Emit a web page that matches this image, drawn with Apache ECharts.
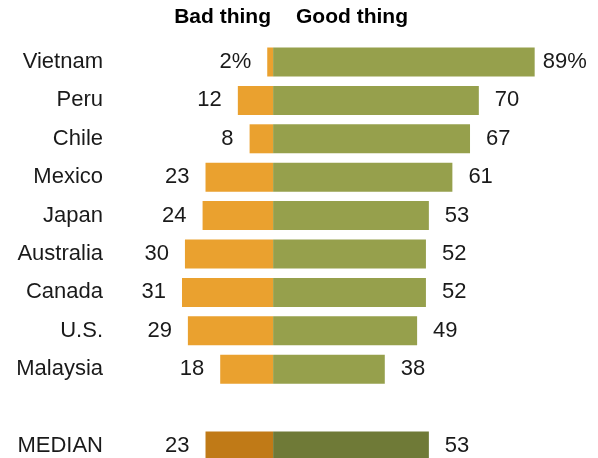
<!DOCTYPE html>
<html>
<head>
<meta charset="utf-8">
<script src="https://cdn.jsdelivr.net/npm/echarts@6/dist/echarts.min.js"></script>
<style>
html,body{margin:0;padding:0;background:#fff;}
#chart{width:598px;height:458px;}
</style>
</head>
<body>
<div id="chart"></div>
<script>
var categories = ['Vietnam','Peru','Chile','Mexico','Japan','Australia','Canada','U.S.','Malaysia','','MEDIAN'];
var badValues  = [2,12,8,23,24,30,31,29,18,null,23];
var goodValues = [89,70,67,61,53,52,52,49,38,null,53];
var headers = ['Bad thing','Good thing'];

var ORANGE = '#EAA12F', GREEN = '#96A04C';
var ORANGE_MED = '#C07A17', GREEN_MED = '#6F7A37';
var FONT = '"Liberation Sans", Arial, sans-serif';

var medianIdx = categories.indexOf('MEDIAN');

var badData = badValues.map(function(v,i){
  if (v === null) return '-';
  var item = {value: -v};
  if (i === medianIdx) item.itemStyle = {color: ORANGE_MED};
  return item;
});
var goodData = goodValues.map(function(v,i){
  if (v === null) return '-';
  var item = {value: v};
  if (i === medianIdx) item.itemStyle = {color: GREEN_MED};
  if (i === 0) item.label = {distance: 8};
  return item;
});

var chart = echarts.init(document.getElementById('chart'), null, {renderer:'canvas'});
chart.setOption({
  animation: false,
  grid: {left: 110, right: 31, top: 62, height: 384},
  xAxis: {
    type: 'value', min: -55.5, max: 100,
    show: false, splitLine: {show: false}
  },
  yAxis: {
    type: 'category', data: categories, inverse: true, boundaryGap: false,
    axisLine: {show: false, onZero: false}, axisTick: {show: false},
    axisLabel: {margin: 7, fontSize: 22, color: '#1a1a1a', fontFamily: FONT}
  },
  graphic: [
    {type: 'text', right: 598 - 271, top: 7,
     style: {text: headers[0], font: 'bold 21px ' + FONT, fill: '#000'}},
    {type: 'text', left: 296, top: 7,
     style: {text: headers[1], font: 'bold 21px ' + FONT, fill: '#000'}}
  ],
  series: [
    {
      type: 'bar', name: headers[0], data: badData, barWidth: 29, barGap: '-100%',
      itemStyle: {color: ORANGE},
      label: {show: true, position: 'left', distance: 16, fontSize: 22, color: '#1a1a1a', fontFamily: FONT,
        formatter: function(p){ return Math.abs(p.value) + (p.dataIndex === 0 ? '%' : ''); }}
    },
    {
      type: 'bar', name: headers[1], data: goodData, barWidth: 29,
      itemStyle: {color: GREEN},
      label: {show: true, position: 'right', distance: 16, fontSize: 22, color: '#1a1a1a', fontFamily: FONT,
        formatter: function(p){ return p.value + (p.dataIndex === 0 ? '%' : ''); }}
    }
  ]
});
</script>
</body>
</html>
